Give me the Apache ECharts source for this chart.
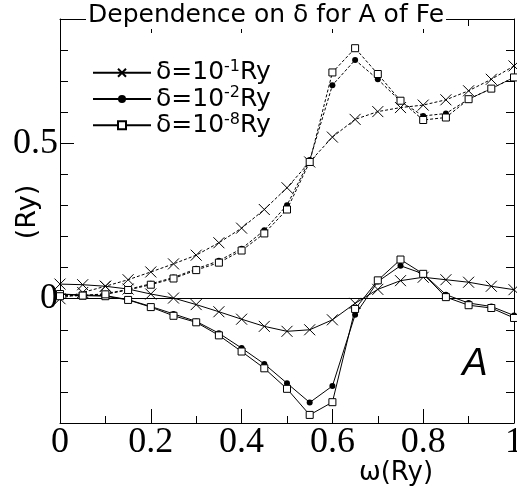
<!DOCTYPE html>
<html>
<head>
<meta charset="utf-8">
<script src="https://cdn.jsdelivr.net/npm/echarts@6/dist/echarts.min.js"></script>
<style>
html,body{margin:0;padding:0;background:#fff;}
#chart{width:517px;height:494px;}
</style>
</head>
<body>
<div id="chart"></div>
<script>
// omega values (Ry)
const omega = [0, 0.05, 0.1, 0.15, 0.2, 0.25, 0.3, 0.35, 0.4, 0.45, 0.5, 0.55, 0.6, 0.65, 0.7, 0.75, 0.8, 0.85, 0.9, 0.95, 1.0];
// delta = 1e-1 Ry
const upperD1 = [0.0, 0.02, 0.04, 0.061, 0.086, 0.112, 0.14, 0.18, 0.227, 0.287, 0.357, 0.44, 0.52, 0.577, 0.602, 0.615, 0.623, 0.64, 0.669, 0.706, 0.749];
const lowerD1 = [0.047, 0.045, 0.04, 0.031, 0.015, 0.002, -0.019, -0.042, -0.066, -0.089, -0.105, -0.1, -0.068, -0.015, 0.03, 0.058, 0.069, 0.061, 0.053, 0.04, 0.029];
// delta = 1e-2 Ry
const upperD2 = [0.01, 0.01, 0.016, 0.03, 0.048, 0.068, 0.096, 0.122, 0.161, 0.22, 0.301, 0.446, 0.687, 0.768, 0.706, 0.635, 0.588, 0.596, 0.642, 0.676, 0.712];
const lowerD2 = [0.015, 0.012, 0.01, -0.003, -0.025, -0.049, -0.073, -0.111, -0.159, -0.21, -0.272, -0.334, -0.281, -0.052, 0.055, 0.106, 0.08, 0.013, -0.014, -0.025, -0.054];
// delta = 1e-8 Ry
const upperD8 = [0.008, 0.01, 0.014, 0.028, 0.045, 0.065, 0.092, 0.116, 0.155, 0.21, 0.287, 0.44, 0.728, 0.806, 0.723, 0.637, 0.575, 0.583, 0.642, 0.676, 0.712];
const lowerD8 = [0.015, 0.01, 0.008, -0.004, -0.027, -0.055, -0.076, -0.118, -0.17, -0.224, -0.29, -0.374, -0.333, -0.033, 0.059, 0.126, 0.08, 0.005, -0.021, -0.03, -0.062];
// legend labels
const legendNames = ['δ=10-1Ry', 'δ=10-2Ry', 'δ=10-8Ry'];
const legendExp = ['-1', '-2', '-8'];
// tick labels
const yTickLabels = [0, 0.5];

const pairs = a => omega.map((x, i) => [x, a[i]]);
const crossPath = 'path://M0,0L10,10M10,0L0,10';
const markers = [
  {symbol: crossPath, size: 11, item: {color: 'rgba(0,0,0,0)', borderColor: '#000', borderWidth: 1}},
  {symbol: 'circle', size: 6, item: {color: '#000', borderColor: '#000', borderWidth: 0}},
  {symbol: 'rect', size: 7, item: {color: '#fff', borderColor: '#000', borderWidth: 1}}
];
const uppers = [upperD1, upperD2, upperD8];
const lowers = [lowerD1, lowerD2, lowerD8];

const series = [];
for (let k = 0; k < 3; k++) {
  const m = markers[k];
  series.push({
    name: legendNames[k], type: 'line', data: pairs(lowers[k]),
    symbol: m.symbol, symbolSize: m.size, showAllSymbol: true,
    itemStyle: m.item, lineStyle: {color: '#000', width: 1, type: 'solid'},
    emphasis: {disabled: true}, animation: false, z: 3 + k
  });
  series.push({
    name: legendNames[k] + ' (dashed)', type: 'line', data: pairs(uppers[k]),
    symbol: m.symbol, symbolSize: m.size, showAllSymbol: true,
    itemStyle: m.item, lineStyle: {color: '#000', width: 1, type: [3, 2]},
    emphasis: {disabled: true}, animation: false, z: 3 + k
  });
}
// zero reference line
series[0].markLine = {
  silent: true, symbol: ['none', 'none'], animation: false,
  label: {show: false},
  lineStyle: {color: '#000', width: 1, type: 'solid'},
  data: [{yAxis: 0}]
};

const chart = echarts.init(document.getElementById('chart'), null, {renderer: 'canvas'});
const axisCommon = {
  type: 'value', min: 0, max: 1, interval: 0.2,
  axisLine: {show: true, onZero: false, lineStyle: {color: '#000', width: 1}},
  axisTick: {show: true, inside: true, length: 14, lineStyle: {color: '#000'}},
  minorTick: {show: true, splitNumber: 2, length: 7, lineStyle: {color: '#000'}},
  splitLine: {show: false}
};
chart.setOption({
  animation: false,
  backgroundColor: '#fff',
  grid: {left: 60, right: 3, top: 19, bottom: 71, containLabel: false, outerBoundsMode: 'none'},
  title: {
    text: 'Dependence on δ for A of Fe',
    left: 86, top: 1, padding: [0, 2, 0, 2],
    backgroundColor: '#fff', z: 20,
    textStyle: {fontFamily: 'DejaVu Sans', fontSize: 25, fontWeight: 'normal', color: '#000', lineHeight: 28}
  },
  legend: {
    orient: 'vertical', left: 92, top: 59, padding: 0,
    itemWidth: 58, itemHeight: 10, itemGap: 0,
    data: legendNames,
    formatter: name => {
      const k = legendNames.indexOf(name);
      return '{b|δ=10}{s|' + legendExp[k] + '}{b|Ry}';
    },
    textStyle: {
      color: '#000', padding: [0, 0, 0, 0],
      rich: {
        b: {fontFamily: 'DejaVu Sans', fontSize: 25, lineHeight: 27.5, color: '#000'},
        s: {fontFamily: 'DejaVu Sans', fontSize: 16, lineHeight: 16, verticalAlign: 'top', color: '#000'}
      }
    }
  },
  xAxis: [
    Object.assign({}, axisCommon, {
      position: 'bottom',
      axisLabel: {
        show: true, margin: 2, color: '#000',
        fontFamily: 'Liberation Serif', fontSize: 36,
        formatter: v => String(+(+v).toFixed(1))
      }
    }),
    Object.assign({}, axisCommon, {position: 'top', axisLabel: {show: false}})
  ],
  yAxis: [
    {
      type: 'value', min: -0.4, max: 0.9, interval: 0.1, position: 'left',
      axisLine: {show: true, onZero: false, lineStyle: {color: '#000', width: 1}},
      axisTick: {show: true, inside: true, length: 8, lineStyle: {color: '#000'}},
      axisLabel: {
        show: true, margin: 2, color: '#000',
        fontFamily: 'Liberation Serif', fontSize: 36,
        customValues: yTickLabels,
        formatter: v => String(+(+v).toFixed(1))
      },
      splitLine: {show: false}
    },
    {
      type: 'value', min: -0.4, max: 0.9, interval: 0.1, position: 'right',
      axisLine: {show: true, onZero: false, lineStyle: {color: '#000', width: 1}},
      axisTick: {show: true, inside: true, length: 8, lineStyle: {color: '#000'}},
      axisLabel: {show: false},
      splitLine: {show: false}
    },
    {
      type: 'value', min: -0.4, max: 0.9, interval: 0.1, position: 'left',
      axisLine: {show: false},
      axisTick: {show: true, inside: true, length: 14, customValues: yTickLabels, lineStyle: {color: '#000'}},
      axisLabel: {show: false},
      splitLine: {show: false}
    }
  ],
  graphic: [
    {type: 'text', x: 28, y: 212, rotation: Math.PI / 2, z: 10,
      style: {text: '(Ry)', font: '27px "DejaVu Sans"', fill: '#000', align: 'center', verticalAlign: 'middle'}},
    {type: 'text', x: 396, y: 473, z: 10,
      style: {text: 'ω(Ry)', font: '26px "DejaVu Sans"', fill: '#000', align: 'center', verticalAlign: 'middle'}},
    {type: 'text', x: 475, y: 364, z: 10,
      style: {text: 'A', font: 'italic 38px "Liberation Sans"', fill: '#000', align: 'center', verticalAlign: 'middle'}}
  ],
  series: series
});
</script>
</body>
</html>
